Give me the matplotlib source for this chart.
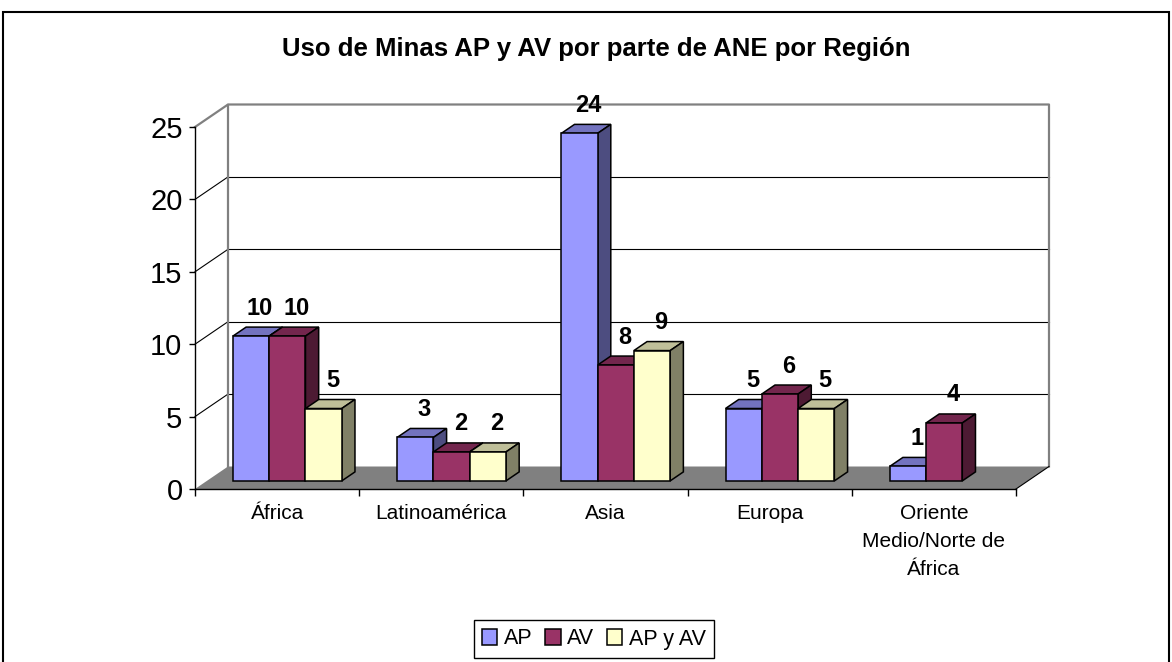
import numpy as np
import matplotlib
matplotlib.use('Agg')
import matplotlib.pyplot as plt
import matplotlib.patches as mpatches
from matplotlib.colors import to_rgb

plt.rcParams['font.family'] = ['Liberation Sans', 'DejaVu Sans']

regions = ['África', 'Latinoamérica', 'Asia', 'Europa', 'Oriente\nMedio/Norte de\nÁfrica']
ap = [10, 3, 24, 5, 1]
av = [10, 2, 8, 6, 4]
ap_av = [5, 2, 9, 5, None]   # no AP y AV bar for Oriente Medio
series = ['AP', 'AV', 'AP y AV']
colors = ['#9999FF', '#993366', '#FFFFCC']
title = 'Uso de Minas AP y AV por parte de ANE por Región'

W, H = 1172, 662
fig = plt.figure(figsize=(W / 100, H / 100), dpi=100)
ax = fig.add_axes([195 / W, 1 - 489 / H, (1016 - 195) / W, (489 - 127) / H])
ax.set_xlim(0, 5)
ax.set_ylim(0, 25)

# depth of the floor / walls in data units (excel-ish 3d look)
DX = 33 / ((1016 - 195) / 5)
DY = 22.5 / ((489 - 127) / 25)
f0, f1 = 0.36, 0.76   # front and back of the bars inside the depth
bw = 0.221


def shade(c, k):
    return tuple(np.array(to_rgb(c)) * k)


# floor, back wall and side wall
ax.add_patch(mpatches.Polygon([(0, 0), (5, 0), (5 + DX, DY), (DX, DY)], closed=True,
                              fc='#808080', ec='none', clip_on=False, zorder=1))
ax.plot([5, 5 + DX], [0, DY], color='black', lw=0.8, clip_on=False, zorder=1.5)
for v in range(5, 25, 5):
    ax.plot([DX, 5 + DX], [v + DY, v + DY], color='black', lw=0.8, clip_on=False, zorder=1)
    ax.plot([0, DX], [v, v + DY], color='black', lw=0.8, clip_on=False, zorder=1)
ax.plot([0, DX, DX, 5 + DX, 5 + DX], [25, 25 + DY, 25 + DY, 25 + DY, DY],
        color='#808080', lw=1.6, clip_on=False, zorder=1)
ax.plot([DX, DX], [DY, 25 + DY], color='#808080', lw=1.6, clip_on=False, zorder=1)

# bars: front faces with ax.bar, then top and side faces
all_vals = [ap, av, ap_av]
x = np.arange(len(regions))
for k, (vals, c) in enumerate(zip(all_vals, colors)):
    xs = [i + 0.49 + (k - 1) * bw + f0 * DX for i, v in enumerate(vals) if v is not None]
    hs = [v for v in vals if v is not None]
    ax.bar(xs, hs, width=bw, bottom=f0 * DY, color=c, edgecolor='black',
           linewidth=1.1, zorder=3, clip_on=False)

dd = f1 - f0
for i in range(len(regions)):
    for k, (vals, c) in enumerate(zip(all_vals, colors)):
        v = vals[i]
        if v is None:
            continue
        xc = i + 0.49 + (k - 1) * bw + f0 * DX
        l, r = xc - bw / 2, xc + bw / 2
        b, t = f0 * DY, f0 * DY + v
        top = [(l, t), (r, t), (r + dd * DX, t + dd * DY), (l + dd * DX, t + dd * DY)]
        side = [(r, b), (r, t), (r + dd * DX, t + dd * DY), (r + dd * DX, b + dd * DY)]
        ax.add_patch(mpatches.Polygon(top, closed=True, fc=shade(c, 0.75), ec='black',
                                      lw=1.1, zorder=2, clip_on=False))
        ax.add_patch(mpatches.Polygon(side, closed=True, fc=shade(c, 0.5), ec='black',
                                      lw=1.1, zorder=2, clip_on=False))
        ax.annotate(str(v), (xc, t), xytext=(9, 28), textcoords='offset pixels',
                    ha='center', va='center', fontsize=17, fontweight='bold',
                    zorder=5, annotation_clip=False)

# axes
for s in ['top', 'right']:
    ax.spines[s].set_visible(False)
for s in ['left', 'bottom']:
    ax.spines[s].set_color('black')
    ax.spines[s].set_linewidth(1.0)
    ax.spines[s].set_zorder(1.6)
ax.set_yticks(range(0, 26, 5))
ax.tick_params(axis='y', labelsize=21, length=4, width=1, pad=5)
ax.set_xticks(x + 0.5, regions)
ax.set_xticks(np.arange(0, 6), minor=True)
ax.tick_params(axis='x', which='major', length=0, labelsize=15, pad=11)
ax.tick_params(axis='x', which='minor', length=5, width=1)
for lab in ax.get_xticklabels():
    lab.set_linespacing(1.6)

fig.text(596 / W, 1 - 49 / H, title, ha='center', va='center',
         fontsize=18.5, fontweight='bold')

handles = [mpatches.Patch(facecolor=c, edgecolor='black', linewidth=1.1, label=s)
           for s, c in zip(series, colors)]
fig.legend(handles=handles, ncol=3, loc='center', bbox_to_anchor=(594 / W, 1 - 639 / H),
           fontsize=15.5, frameon=True, fancybox=False, edgecolor='black',
           handlelength=0.7, handleheight=0.7, handletextpad=0.3, columnspacing=0.6,
           borderpad=0.4, framealpha=1)

# outer chart frame
fig.add_artist(mpatches.Rectangle((3 / W, -0.05), (1169 - 3) / W, 1.05 - 12 / H,
                                  transform=fig.transFigure, fill=False,
                                  edgecolor='black', linewidth=1.5))

fig.savefig('out.png', dpi=100)
